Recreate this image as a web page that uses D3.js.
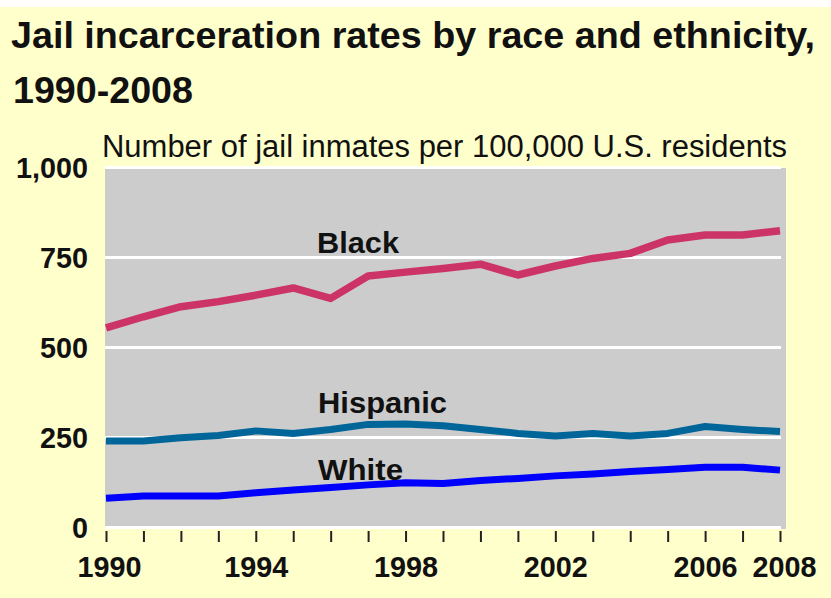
<!DOCTYPE html>
<html>
<head>
<meta charset="utf-8">
<script src="https://cdn.jsdelivr.net/npm/d3@7"></script>
<style>
  html, body { margin: 0; padding: 0; background: #ffffff; }
  svg { display: block; }
  text { font-family: "Liberation Sans", Arial, sans-serif; fill: #111; }
</style>
</head>
<body>
<svg id="chart" width="831" height="598"></svg>
<script>
// Jail incarceration rates per 100,000 U.S. residents, 1990-2008
const years = [1990, 1991, 1992, 1993, 1994, 1995, 1996, 1997, 1998, 1999,
               2000, 2001, 2002, 2003, 2004, 2005, 2006, 2007, 2008];
const black    = [553, 584, 612, 626, 644, 664, 635, 697, 708, 718,
                  730, 700, 725, 746, 760, 797, 811, 811, 823];
const hispanic = [239, 239, 248, 254, 267, 260, 271, 285, 286, 281,
                  271, 260, 253, 260, 253, 260, 279, 271, 265];
const white    = [80, 86, 86, 86, 95, 103, 110, 117, 123, 121,
                  129, 135, 142, 147, 154, 160, 166, 166, 158];
const yTicks = [0, 250, 500, 750, 1000];
const xLabels = [1990, 1994, 1998, 2002, 2006, 2008];

const seriesNames = ["Black", "Hispanic", "White"];
const seriesValues = [black, hispanic, white];
const seriesColors = ["#cc3366", "#006699", "#0000ff"];

const svg = d3.select("#chart");

// page background: thin white strip on top, pale yellow panel below
svg.append("rect").attr("x", 0).attr("y", 7).attr("width", 831).attr("height", 591)
  .attr("fill", "#ffffcc");

const x = d3.scaleLinear().domain([1990, 2008]).range([106, 780]);
const y = d3.scaleLinear().domain([0, 1000]).range([527, 167]);

// title
svg.append("text").attr("x", 11).attr("y", 48)
  .attr("font-size", 36).attr("font-weight", "bold")
  .attr("textLength", 804).attr("lengthAdjust", "spacingAndGlyphs")
  .text("Jail incarceration rates by race and ethnicity,");
svg.append("text").attr("x", 13).attr("y", 103)
  .attr("font-size", 36).attr("font-weight", "bold")
  .attr("textLength", 180).attr("lengthAdjust", "spacingAndGlyphs")
  .text("1990-2008");
svg.append("text").attr("x", 102).attr("y", 157)
  .attr("font-size", 31)
  .attr("textLength", 685).attr("lengthAdjust", "spacingAndGlyphs")
  .text("Number of jail inmates per 100,000 U.S. residents");

// plot panel
svg.append("rect")
  .attr("x", x(1990) - 1).attr("y", y(1000) + 1)
  .attr("width", x(2008) - x(1990) + 7).attr("height", y(0) - y(1000) + 1)
  .attr("fill", "#cccccc");

// white gridlines
const grid = svg.append("g").attr("transform", `translate(${x(1990) - 1},0)`)
  .call(d3.axisLeft(y).tickValues(yTicks).tickSize(-(x(2008) - x(1990) + 2)).tickFormat(""));
grid.select(".domain").remove();
grid.selectAll(".tick line").attr("stroke", "#ffffff").attr("stroke-width", 3);

// y axis labels
const yAxis = svg.append("g").attr("transform", "translate(88,0)")
  .call(d3.axisLeft(y).tickValues(yTicks).tickSize(0).tickPadding(0).tickFormat(d3.format(",")));
yAxis.select(".domain").remove();
yAxis.selectAll(".tick text")
  .attr("font-family", "'Liberation Sans', Arial, sans-serif")
  .attr("font-size", 30).attr("font-weight", "bold").attr("fill", "#111")
  .attr("dy", "0.36em")
  .each(function(d) {
    const s = d3.format(",")(d);
    const w = s.length * 16 - (s.includes(",") ? 8 : 0);
    d3.select(this).attr("textLength", w).attr("lengthAdjust", "spacingAndGlyphs");
  });

// x axis with a tick for every year
const xAxis = svg.append("g").attr("transform", "translate(0,531)")
  .call(d3.axisBottom(x).tickValues(years).tickSize(11).tickPadding(14)
    .tickFormat(d => xLabels.includes(d) ? String(d) : ""));
xAxis.select(".domain").remove();
xAxis.selectAll(".tick line").attr("stroke", "#222").attr("stroke-width", 2);
xAxis.selectAll(".tick text")
  .attr("font-family", "'Liberation Sans', Arial, sans-serif")
  .attr("font-size", 30).attr("font-weight", "bold").attr("fill", "#111")
  .attr("dy", "0.71em")
  .filter(d => xLabels.includes(d))
  .attr("textLength", 64).attr("lengthAdjust", "spacingAndGlyphs");
xAxis.selectAll(".tick").filter(d => d === 2008).select("text").attr("dx", 4);
xAxis.selectAll(".tick").filter(d => d === 1990).select("text").attr("dx", 3);

// series lines
const line = d3.line().x((d, i) => x(years[i])).y(d => y(d));
seriesValues.forEach((vals, k) => {
  svg.append("path").datum(vals)
    .attr("d", line)
    .attr("fill", "none")
    .attr("stroke", seriesColors[k])
    .attr("stroke-width", k === 0 ? 7.5 : 7)
    .attr("stroke-linejoin", "round");
});

// series labels
const labelPos = [
  { x: 317, y: 253, w: 82 },
  { x: 318, y: 413, w: 129 },
  { x: 318, y: 480, w: 85 }
];
seriesNames.forEach((name, k) => {
  svg.append("text")
    .attr("x", labelPos[k].x).attr("y", labelPos[k].y)
    .attr("font-size", 30).attr("font-weight", "bold")
    .attr("textLength", labelPos[k].w).attr("lengthAdjust", "spacingAndGlyphs")
    .text(name);
});
</script>
</body>
</html>
